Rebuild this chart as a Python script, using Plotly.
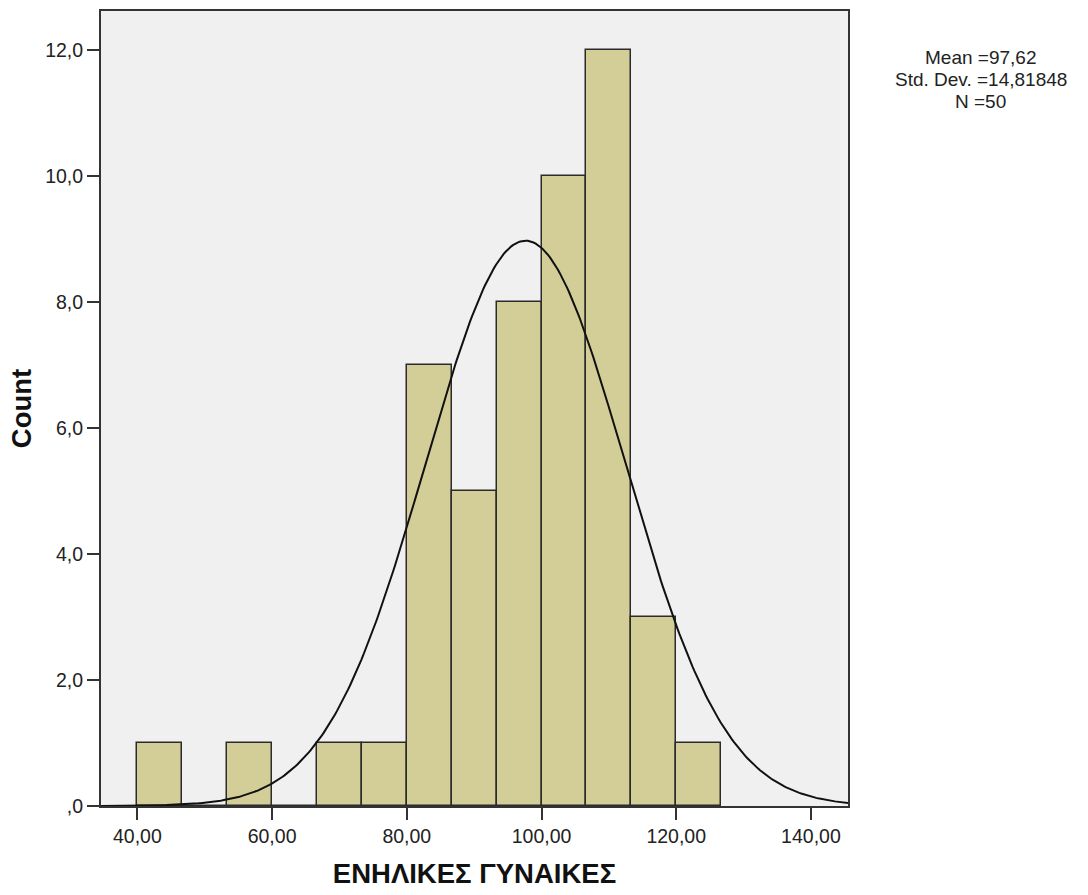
import numpy as np
import plotly.graph_objects as go

# Histogram bins (lower edges) and counts
bin_start = 40.0
bin_width = 20.0 / 3.0
counts = [1, 0, 1, 0, 1, 1, 7, 5, 8, 10, 12, 3, 1]

# Summary statistics shown beside the plot
mean_val = 97.62
std_val = 14.81848
n_val = 50
stats_lines = ["Mean =97,62", "Std. Dev. =14,81848", "N =50"]

x_tick_vals = [40, 60, 80, 100, 120, 140]
x_tick_text = ["40,00", "60,00", "80,00", "100,00", "120,00", "140,00"]
y_tick_vals = [0, 2, 4, 6, 8, 10, 12]
y_tick_text = [",0", "2,0", "4,0", "6,0", "8,0", "10,0", "12,0"]

x_range = [34.6, 145.5]
y_range = [0, 12.62]

centers = [bin_start + bin_width * (i + 0.5) for i in range(len(counts))]

# Normal curve scaled to counts per bin
xs = np.linspace(x_range[0], x_range[1], 400)
ys = n_val * bin_width / (std_val * np.sqrt(2 * np.pi)) * np.exp(-0.5 * ((xs - mean_val) / std_val) ** 2)

fig = go.Figure()
fig.add_trace(go.Bar(
    x=centers, y=counts, width=[bin_width] * len(counts),
    marker=dict(color="#D3CE97", line=dict(color="#2b2b2b", width=1.5)),
    hoverinfo="skip",
))
fig.add_trace(go.Scatter(
    x=xs, y=ys, mode="lines",
    line=dict(color="#111111", width=2),
    hoverinfo="skip",
))

fig.update_layout(
    width=1088, height=895, autosize=False,
    margin=dict(l=101, r=240, t=9, b=89),
    paper_bgcolor="white", plot_bgcolor="#F0F0F0",
    showlegend=False, bargap=0,
    font=dict(family="Liberation Sans, Arial, sans-serif", color="#222222", size=19.5),
)
fig.update_xaxes(
    range=x_range, tickvals=x_tick_vals, ticktext=x_tick_text,
    ticks="outside", ticklen=12, tickwidth=1.5, tickcolor="#333333",
    showline=True, linecolor="#333333", linewidth=2, mirror=True,
    showgrid=False, zeroline=False,
    tickfont=dict(size=19.5),
    title=dict(text="<b>ΕΝΗΛΙΚΕΣ ΓΥΝΑΙΚΕΣ</b>", font=dict(size=27.5, color="#111111"), standoff=17),
)
fig.update_yaxes(
    range=y_range, tickvals=y_tick_vals, ticktext=y_tick_text,
    ticks="outside", ticklen=12, tickwidth=1.5, tickcolor="#333333",
    showline=True, linecolor="#333333", linewidth=2, mirror=True,
    showgrid=False, zeroline=False,
    tickfont=dict(size=19.5),
    title=dict(text="<b>Count</b>", font=dict(size=27.5, color="#111111"), standoff=6),
)

# Statistics block, one annotation per line for tight spacing
for line, ypos in zip(stats_lines, [0.9410, 0.9134, 0.8858]):
    fig.add_annotation(
        xref="paper", yref="paper", x=1.178, y=ypos, xanchor="center", yanchor="middle",
        text=line, showarrow=False, borderpad=0,
        font=dict(size=19, color="#222222"),
    )

fig.write_html("out.html")
